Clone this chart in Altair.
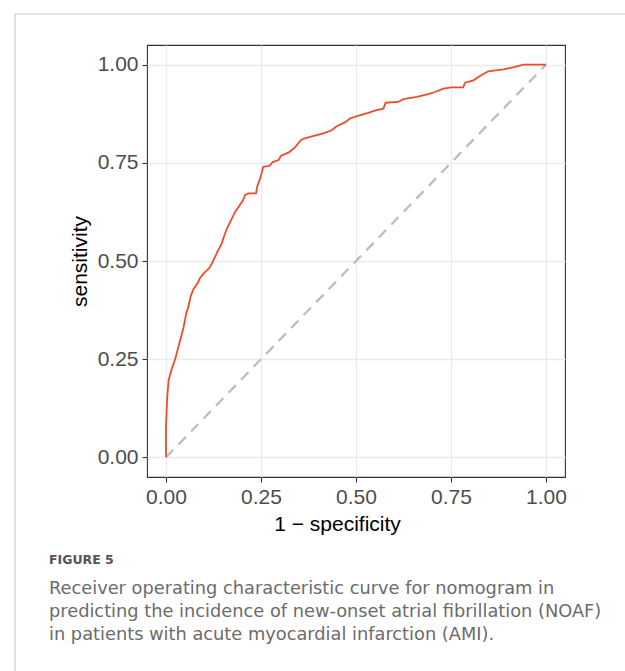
import altair as alt
import pandas as pd

# ROC curve vertices (1 - specificity, sensitivity)
fpr = [0.000, 0.000, 0.003, 0.007, 0.015, 0.024, 0.035, 0.046, 0.054, 0.058,
       0.065, 0.072, 0.083, 0.089, 0.098, 0.114, 0.123, 0.136, 0.147, 0.151,
       0.160, 0.164, 0.182, 0.203, 0.208, 0.217, 0.237, 0.240, 0.249, 0.256,
       0.272, 0.281, 0.296, 0.303, 0.322, 0.339, 0.353, 0.361, 0.379, 0.414,
       0.436, 0.449, 0.471, 0.484, 0.509, 0.532, 0.554, 0.572, 0.578, 0.611,
       0.625, 0.660, 0.690, 0.704, 0.730, 0.752, 0.782, 0.787, 0.809, 0.826,
       0.848, 0.888, 0.918, 0.941, 1.000]
tpr = [0.000, 0.079, 0.150, 0.197, 0.225, 0.250, 0.290, 0.330, 0.370, 0.380,
       0.410, 0.428, 0.443, 0.456, 0.467, 0.482, 0.498, 0.525, 0.545, 0.558,
       0.582, 0.590, 0.625, 0.655, 0.668, 0.672, 0.672, 0.689, 0.714, 0.740,
       0.742, 0.752, 0.757, 0.768, 0.776, 0.789, 0.806, 0.811, 0.816, 0.825,
       0.833, 0.843, 0.853, 0.863, 0.871, 0.877, 0.884, 0.888, 0.903, 0.905,
       0.912, 0.918, 0.925, 0.929, 0.939, 0.942, 0.942, 0.954, 0.960, 0.971,
       0.983, 0.988, 0.994, 1.000, 1.000]
diag_x = [0.0, 1.0]
diag_y = [0.0, 1.0]
tick_values = [0.0, 0.25, 0.5, 0.75, 1.0]

fig_label = "FIGURE 5"
caption_lines = [
    "Receiver operating characteristic curve for nomogram in",
    "predicting the incidence of new-onset atrial fibrillation (NOAF)",
    "in patients with acute myocardial infarction (AMI).",
]

roc_df = pd.DataFrame({"fpr": fpr, "tpr": tpr, "order": list(range(len(fpr)))})
diag_df = pd.DataFrame({"fpr": diag_x, "tpr": diag_y})

FONT = "Liberation Sans"

xscale = alt.Scale(domain=[-0.05, 1.05], nice=False, zero=False)
yscale = alt.Scale(domain=[-0.05, 1.05], nice=False, zero=False)

xaxis = alt.Axis(values=tick_values, format=".2f", title="1 − specificity",
                 titleX=190, titleY=53, titleBaseline="alphabetic", titleAlign="center")
yaxis = alt.Axis(values=tick_values, format=".2f", title="sensitivity",
                 titleX=-61, titleY=216, titleBaseline="alphabetic",
                 titleAlign="center", titleAngle=-90)

diag = alt.Chart(diag_df).mark_line(
    color="#BDBDBD", strokeWidth=2.3, strokeDash=[10.5, 7.5]
).encode(
    x=alt.X("fpr:Q", scale=xscale, axis=xaxis),
    y=alt.Y("tpr:Q", scale=yscale, axis=yaxis),
)

roc = alt.Chart(roc_df).mark_line(color="#EE4D2D", strokeWidth=1.8).encode(
    x=alt.X("fpr:Q", scale=xscale),
    y=alt.Y("tpr:Q", scale=yscale),
    order="order:Q",
)

frame_top = alt.Chart(pd.DataFrame({"a": [0]})).mark_rule(
    color="#CFCFCF", strokeWidth=1.2
).encode(x=alt.value(-132), x2=alt.value(478), y=alt.value(-31))
frame_left = alt.Chart(pd.DataFrame({"a": [0]})).mark_rule(
    color="#CFCFCF", strokeWidth=1.2
).encode(x=alt.value(-132), y=alt.value(-31), y2=alt.value(640))

label_txt = alt.Chart(pd.DataFrame({"t": [fig_label]})).mark_text(
    align="left", baseline="alphabetic", font="DejaVu Sans", fontSize=12.5,
    fontWeight="bold", color="#555555"
).encode(text="t:N", x=alt.value(-98), y=alt.value(519))

cap_layers = []
for i, line in enumerate(caption_lines):
    cap_layers.append(
        alt.Chart(pd.DataFrame({"t": [line]})).mark_text(
            align="left", baseline="alphabetic", font="DejaVu Sans", fontSize=17.8,
            color="#6B6B6B"
        ).encode(text="t:N", x=alt.value(-98), y=alt.value(549 + 23 * i))
    )

chart = alt.layer(
    diag, roc, frame_top, frame_left, label_txt, *cap_layers
).properties(
    width=418, height=432,
    autosize=alt.AutoSizeParams(type="none"),
    padding={"left": 147, "top": 45, "right": 60, "bottom": 194},
).configure(
    background="white",
).configure_view(
    stroke="#333333", strokeWidth=1.1,
).configure_axis(
    domain=False,
    grid=True, gridColor="#EBEBEB", gridWidth=1.3,
    ticks=True, tickColor="#333333", tickSize=5, tickWidth=1.1,
    labelFont=FONT, labelFontSize=21, labelColor="#4D4D4D", labelPadding=4,
    titleFont=FONT, titleFontSize=21, titleColor="#000000", titleFontWeight="normal",
)

chart.save("out.html", embed_options={"renderer": "svg", "actions": False})
